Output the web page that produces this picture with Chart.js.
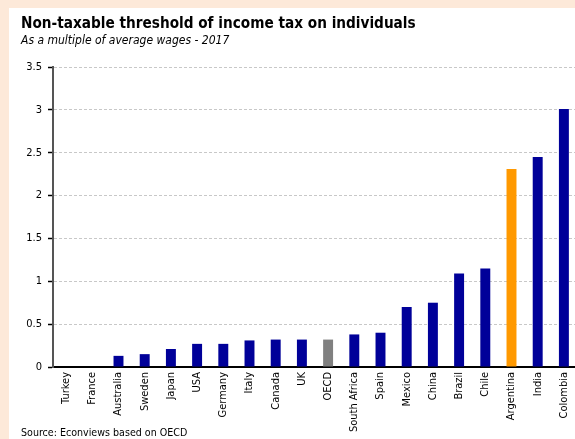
<!DOCTYPE html>
<html>
<head>
<meta charset="utf-8">
<script src="https://cdn.jsdelivr.net/npm/chart.js@4"></script>
<style>
  html, body { margin: 0; padding: 0; }
  body { width: 575px; height: 439px; overflow: hidden; background: #fde9d9; position: relative; }
  #panel { position: absolute; left: 9px; top: 8px; width: 580px; height: 431px; background: #fff; }
  #chartBox { position: absolute; left: 0; top: 0; width: 575px; height: 431px; }
  .txt { position: absolute; left: 12px; font-family: "DejaVu Sans Condensed", "DejaVu Sans", sans-serif; color: #000; white-space: nowrap; z-index: 2; }
  #title { top: 6px; font-size: 15.2px; font-weight: bold; }
  #subtitle { top: 25px; font-size: 12px; font-style: italic; }
  #source { top: 418px; font-size: 10.6px; }
</style>
</head>
<body>
<div id="panel">
  <div id="title" class="txt">Non-taxable threshold of income tax on individuals</div>
  <div id="subtitle" class="txt">As a multiple of average wages - 2017</div>
  <div id="chartBox"><canvas id="myChart"></canvas></div>
  <div id="source" class="txt">Source: Econviews based on OECD</div>
</div>
<script>
  var countries = ['Turkey', 'France', 'Australia', 'Sweden', 'Japan', 'USA', 'Germany', 'Italy', 'Canada', 'UK',
                   'OECD', 'South Africa', 'Spain', 'Mexico', 'China', 'Brazil', 'Chile', 'Argentina', 'India', 'Colombia'];
  var threshold = [0, 0, 0.13, 0.15, 0.21, 0.27, 0.27, 0.31, 0.32, 0.32,
                   0.32, 0.38, 0.40, 0.70, 0.75, 1.09, 1.15, 2.31, 2.45, 3.01];
  var yTicks = [0, 0.5, 1, 1.5, 2, 2.5, 3, 3.5];

  // OECD average in grey, Argentina highlighted, the rest navy
  var barColors = countries.map(function (c) {
    if (c == 'OECD') return '#808080';
    if (c == 'Argentina') return '#ff9900';
    return '#000099';
  });

  var fontName = '"DejaVu Sans Condensed", "DejaVu Sans", sans-serif';
  Chart.defaults.font.family = fontName;
  Chart.defaults.color = '#000';

  var canvas = document.getElementById('myChart');
  new Chart(canvas, {
    type: 'bar',
    data: {
      labels: countries,
      datasets: [{
        data: threshold,
        backgroundColor: barColors,
        borderWidth: 0,
        barPercentage: 0.76,
        categoryPercentage: 0.5
      }]
    },
    options: {
      responsive: true,
      maintainAspectRatio: false,
      animation: false,
      layout: { padding: { top: 59, right: 7, left: 0, bottom: 0 } },
      plugins: {
        legend: { display: false },
        tooltip: { enabled: false }
      },
      scales: {
        x: {
          grid: { display: false, drawTicks: false },
          border: { display: true, color: '#000', width: 2 },
          ticks: {
            autoSkip: false,
            maxRotation: 90,
            minRotation: 90,
            padding: 5,
            font: { size: 11 }
          },
          afterFit: function (scale) { scale.height = 72; }
        },
        y: {
          min: 0,
          max: 3.5,
          afterBuildTicks: function (scale) {
            scale.ticks = yTicks.map(function (v) { return { value: v }; });
          },
          grid: {
            color: '#c8c8c8',
            tickColor: '#000',
            tickLength: 5,
            tickWidth: 1.5,
            lineWidth: 1
          },
          border: { display: true, color: '#555', width: 2, dash: [3, 2] },
          ticks: {
            padding: 6,
            font: { size: 11 },
            callback: function (v) { return String(v); }
          },
          afterFit: function (scale) { scale.width = 44; }
        }
      }
    }
  });
</script>
</body>
</html>
